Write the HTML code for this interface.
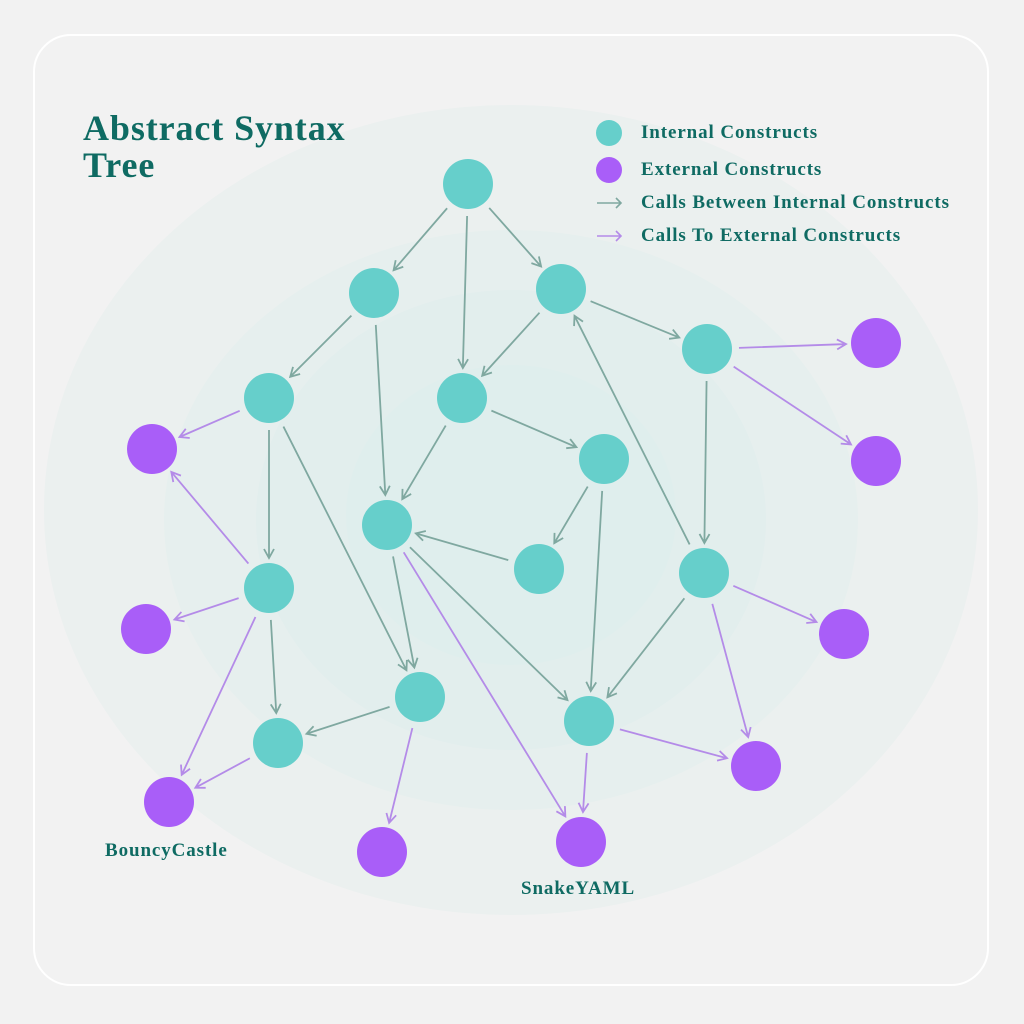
<!DOCTYPE html>
<html><head><meta charset="utf-8"><style>
html,body{margin:0;padding:0;background:#f2f2f2;}
body{width:1024px;height:1024px;overflow:hidden;position:relative;font-family:"Liberation Serif",serif;}
.card{position:absolute;left:33px;top:34px;width:956px;height:952px;border:2px solid #fff;border-radius:38px;box-sizing:border-box;}
svg{position:absolute;left:0;top:0;}
.t{position:absolute;color:#0f6b63;font-weight:bold;white-space:nowrap;}
.lg{font-size:19px;letter-spacing:0.9px;}
</style></head><body>
<div class="card"></div>
<svg id="s" width="1024" height="1024" viewBox="0 0 1024 1024">
<ellipse cx="511" cy="510" rx="467" ry="405" fill="#ebf0ef"/>
<ellipse cx="511" cy="520" rx="347" ry="290" fill="#e6efee"/>
<ellipse cx="511" cy="520" rx="255" ry="230" fill="#e2eeed"/>
<ellipse cx="511" cy="515" rx="165" ry="150" fill="#dfeeed"/>
<g id="e"></g><g id="n"></g>
</svg>
<div class="t" style="left:83px;top:110px;font-size:36px;line-height:37px;letter-spacing:0.9px;">Abstract Syntax<br>Tree</div>
<svg width="1024" height="1024" style="pointer-events:none">
<circle cx="609" cy="133" r="13" fill="#66cfcb"/>
<circle cx="609" cy="170" r="13" fill="#a95ef8"/>
<g stroke-width="1.6" fill="none">
<path d="M597 203h24M616 198l5 5-5 5" stroke="#7fa8a0"/>
<path d="M597 236h24M616 231l5 5-5 5" stroke="#b48be8"/>
</g></svg>
<div class="t lg" style="left:641px;top:122px;">Internal Constructs</div>
<div class="t lg" style="left:641px;top:159px;">External Constructs</div>
<div class="t lg" style="left:641px;top:192px;">Calls Between Internal Constructs</div>
<div class="t lg" style="left:641px;top:225px;">Calls To External Constructs</div>
<div class="t lg" style="left:105px;top:840px;">BouncyCastle</div>
<div class="t lg" style="left:521px;top:878px;">SnakeYAML</div>
<script>
var N={A:[468,184],B:[374,293],C:[561,289],D:[707,349],E:[269,398],F:[462,398],G:[604,459],H:[387,525],I:[539,569],J:[704,573],K:[269,588],L:[420,697],M:[589,721],N:[278,743],
P1:[876,343],P2:[876,461],P3:[152,449],P4:[146,629],P5:[844,634],P6:[756,766],P7:[169,802],P8:[382,852],P9:[581,842]};
var T="A-B A-F A-C B-E B-H C-F C-D F-H F-G G-I G-M I-H J-C D-J E-K E-L H-L H-M J-M K-N L-N".split(" ");
var P="D-P1 D-P2 E-P3 K-P3 K-P4 K-P7 N-P7 L-P8 H-P9 M-P9 J-P5 J-P6 M-P6".split(" ");
var ns="http://www.w3.org/2000/svg",eg=document.getElementById("e"),ng=document.getElementById("n");
function edge(s,c){var p=s.split("-"),a=N[p[0]],b=N[p[1]];var dx=b[0]-a[0],dy=b[1]-a[1],L=Math.hypot(dx,dy),ux=dx/L,uy=dy/L;
var x1=a[0]+ux*32,y1=a[1]+uy*32,x2=b[0]-ux*30,y2=b[1]-uy*30;
var h=9,w=5,bx=x2-ux*h,by=y2-uy*h;
var d="M"+x1+" "+y1+"L"+x2+" "+y2+"M"+(bx-uy*w)+" "+(by+ux*w)+"L"+x2+" "+y2+"L"+(bx+uy*w)+" "+(by-ux*w);
var e=document.createElementNS(ns,"path");e.setAttribute("d",d);e.setAttribute("stroke",c);e.setAttribute("stroke-width","1.8");e.setAttribute("fill","none");eg.appendChild(e);}
T.forEach(function(s){edge(s,"#7fa8a0")});P.forEach(function(s){edge(s,"#b48be8")});
for(var k in N){var c=document.createElementNS(ns,"circle");c.setAttribute("cx",N[k][0]);c.setAttribute("cy",N[k][1]);c.setAttribute("r",25);c.setAttribute("fill",k[0]=="P"?"#a95ef8":"#66cfcb");ng.appendChild(c);}
</script>
</body></html>
